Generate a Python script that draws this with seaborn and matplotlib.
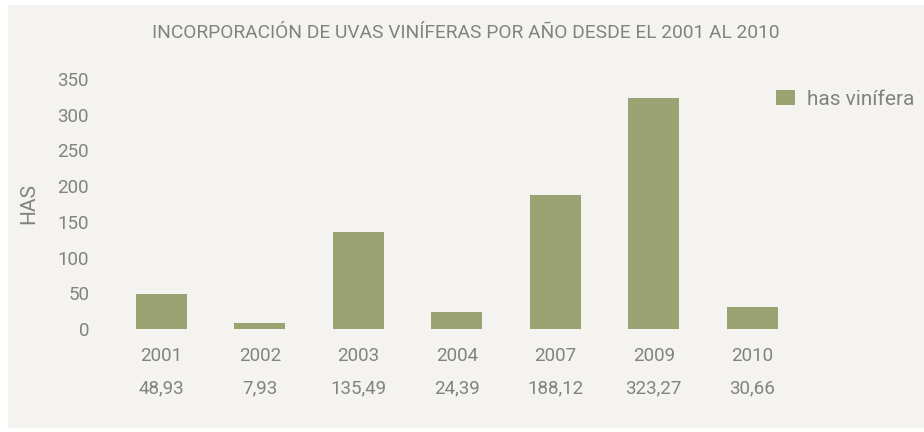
import matplotlib
matplotlib.use("Agg")
import matplotlib.pyplot as plt
import matplotlib.transforms as mtransforms
from matplotlib.patches import Rectangle
import seaborn as sns

# --- data ---
years = ["2001", "2002", "2003", "2004", "2007", "2009", "2010"]
has_vinifera = [48.93, 7.93, 135.49, 24.39, 188.12, 323.27, 30.66]
value_labels = ["48,93", "7,93", "135,49", "24,39", "188,12", "323,27", "30,66"]
y_ticks = [0, 50, 100, 150, 200, 250, 300, 350]

BG = "#f4f3ef"
BAR = "#9ca373"
TXT = "#828282"

sns.set_theme(style="white")
plt.rcParams["font.family"] = ["Roboto", "DejaVu Sans"]

fig = plt.figure(figsize=(9.24, 4.32), dpi=100)
fig.patch.set_facecolor("white")
# beige panel behind everything
fig.patches.append(Rectangle((8 / 924, 1 - 428 / 432), 1, (428 - 5) / 432,
                             transform=fig.transFigure, facecolor=BG,
                             edgecolor="none", zorder=-10))

ax = fig.add_axes([112 / 924, 1 - 329 / 432, 689.5 / 924, 250 / 432])
ax.patch.set_alpha(0)

sns.barplot(x=years, y=has_vinifera, color=BAR, saturation=1, width=0.52,
            linewidth=0, label="has vinífera", ax=ax)

ax.set_ylim(0, 350)
ax.set_xlim(-0.5, len(years) - 0.5)
ax.set_yticks(y_ticks)
ax.set_yticklabels([str(t) for t in y_ticks], fontsize=13.5, color=TXT)
ax.tick_params(axis="y", length=0, pad=16.5)
ax.tick_params(axis="x", length=0, pad=13, labelsize=13.5, labelcolor=TXT)
for s in ax.spines.values():
    s.set_visible(False)

ax.set_xlabel("")
ax.set_ylabel("HAS", fontsize=15, color=TXT)
ax.yaxis.set_label_coords(-0.107, 0.5)

trans = mtransforms.blended_transform_factory(ax.transData, ax.transAxes)
for i, lab in enumerate(value_labels):
    ax.text(i, -0.236, lab, transform=trans, ha="center", va="center",
            fontsize=13.5, color=TXT)

fig.text(466 / 924, 1 - 33 / 432,
         "INCORPORACIÓN DE UVAS VINÍFERAS POR AÑO DESDE EL 2001 AL 2010",
         ha="center", va="center", fontsize=13.8, color=TXT)

leg = ax.legend(loc="upper left", bbox_to_anchor=(776 / 924, 1 - 90 / 432),
                bbox_transform=fig.transFigure, frameon=False, fontsize=15,
                handlelength=0.9, handleheight=0.7, handletextpad=0.6,
                borderpad=0, borderaxespad=0)
for t in leg.get_texts():
    t.set_color(TXT)

fig.savefig("out.png", dpi=100, facecolor=fig.get_facecolor())
